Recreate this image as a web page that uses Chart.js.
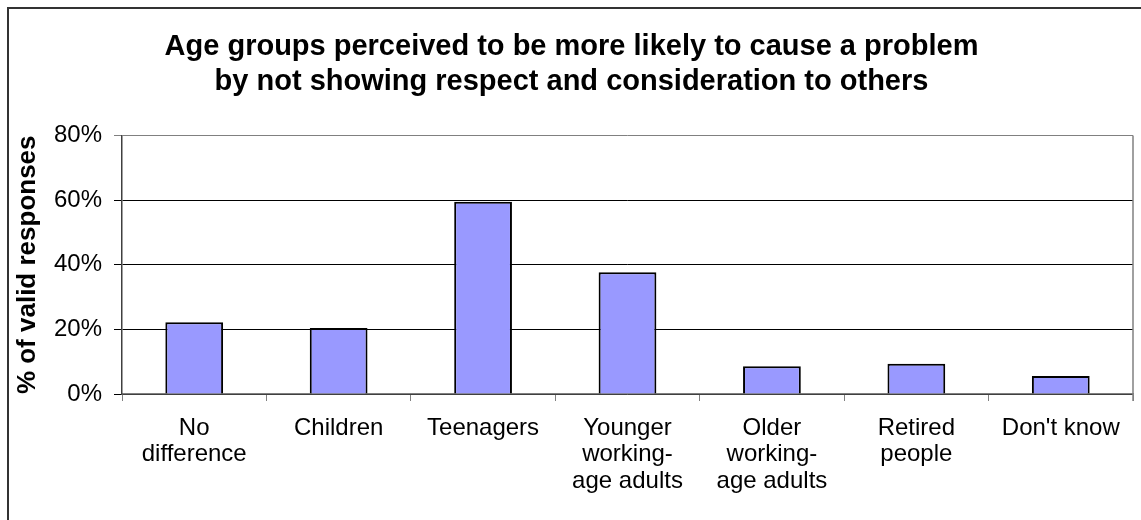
<!DOCTYPE html>
<html>
<head>
<meta charset="utf-8">
<script src="https://cdn.jsdelivr.net/npm/chart.js@4.4.0/dist/chart.umd.min.js"></script>
<style>
  html, body { margin: 0; padding: 0; background: #fff; overflow: hidden; }
  #wrap { position: absolute; left: 0; top: 0; width: 1141px; height: 520px; }
</style>
</head>
<body>
<div id="wrap"><canvas id="chart"></canvas></div>
<script>
// chart data
const categories = [
  ["No", "difference"],
  ["Children"],
  ["Teenagers"],
  ["Younger", "working-", "age adults"],
  ["Older", "working-", "age adults"],
  ["Retired", "people"],
  ["Don't know"]
];
const shares = [22.2, 20.4, 59.5, 37.7, 8.6, 9.4, 5.6];
const yTicks = [0, 20, 40, 60, 80];
const titleLines = [
  "Age groups perceived to be more likely to cause a problem",
  "by not showing respect and consideration to others"
];
const yTitle = "% of valid responses";

const FONT = "'Liberation Sans', Arial, sans-serif";

// outer frame (only left/top edges fall inside the window) + right edge of plot box
const framePlugin = {
  id: "frame",
  beforeDraw(chart) {
    const ctx = chart.ctx;
    ctx.save();
    ctx.fillStyle = "#fff";
    ctx.fillRect(0, 0, chart.width, chart.height);
    ctx.strokeStyle = "#333";
    ctx.lineWidth = 2;
    ctx.beginPath();
    ctx.moveTo(8, chart.height);
    ctx.lineTo(8, 8);
    ctx.lineTo(chart.width, 8);
    ctx.stroke();
    ctx.restore();
  },
  afterDatasetsDraw(chart) {
    const { ctx, chartArea: a } = chart;
    ctx.save();
    ctx.strokeStyle = "#808080";
    ctx.lineWidth = 1.5;
    ctx.beginPath();
    ctx.moveTo(a.right, a.top);
    ctx.lineTo(a.right, a.bottom + 7);
    ctx.stroke();
    ctx.restore();
  }
};

new Chart(document.getElementById("chart"), {
  type: "bar",
  data: {
    labels: categories,
    datasets: [{
      data: shares,
      backgroundColor: "#9999FF",
      borderColor: "#000",
      borderWidth: 2,
      barPercentage: 0.4,
      categoryPercentage: 1
    }]
  },
  options: {
    responsive: true,
    maintainAspectRatio: false,
    animation: false,
    layout: { padding: { left: 10, right: 8, top: 30, bottom: 0 } },
    plugins: {
      legend: { display: false },
      tooltip: { enabled: false },
      title: {
        display: true,
        text: titleLines,
        color: "#000",
        font: { family: FONT, size: 29, weight: "bold", lineHeight: 1.2 },
        padding: { top: 0, bottom: 36 }
      }
    },
    scales: {
      x: {
        offset: true,
        grid: {
          offset: true,
          drawOnChartArea: false,
          color: "#808080",
          tickLength: 7,
          lineWidth: 1
        },
        border: { color: "#808080", width: 1.5 },
        ticks: {
          color: "#000",
          font: { family: FONT, size: 24, lineHeight: 1.1 },
          padding: 14,
          maxRotation: 0,
          autoSkip: false
        },
        afterFit(scale) { scale.height = 126; }
      },
      y: {
        min: 0,
        max: 80,
        afterBuildTicks(scale) { scale.ticks = yTicks.map(v => ({ value: v })); },
        grid: {
          color: ctx => (ctx.tick && ctx.tick.value === 80 ? "#808080" : "#000"),
          lineWidth: 1,
          tickLength: 8
        },
        border: { color: "#404040", width: 1.5 },
        ticks: {
          color: "#000",
          font: { family: FONT, size: 24 },
          padding: 12,
          callback: v => v + "%"
        },
        title: {
          display: true,
          text: yTitle,
          color: "#000",
          font: { family: FONT, size: 26, weight: "bold", lineHeight: 1.2 },
          padding: { top: 2, bottom: 0 }
        },
        afterFit(scale) { scale.width = 112; }
      }
    }
  },
  plugins: [framePlugin]
});
</script>
</body>
</html>
